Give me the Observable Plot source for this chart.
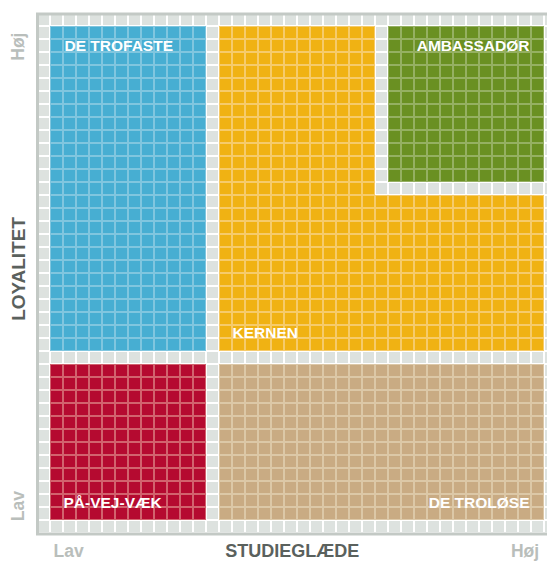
<!DOCTYPE html>
<html><head><meta charset="utf-8">
<script src="https://cdn.jsdelivr.net/npm/d3@7"></script>
<script src="https://cdn.jsdelivr.net/npm/@observablehq/plot@0.6"></script>
<style>
html,body{margin:0;padding:0;background:#fff;overflow:hidden}
#chart svg{overflow:hidden;display:block}
</style>
</head><body><div id="chart"></div>
<script>
// Segments (categories) and their colours
const segments = ["DE TROFASTE", "KERNEN", "AMBASSADØR", "PÅ-VEJ-VÆK", "DE TROLØSE"];
const segColors = ["#47aed2", "#f0b213", "#6a9022", "#b50a30", "#c9ab83"];
const segTints  = ["#80c6df", "#f6cb6b", "#95b062", "#d2636e", "#dcc8a7"];

// Regions of the grid (in cells, end exclusive); KERNEN is an L made of two blocks
const regionSegment = ["DE TROFASTE", "KERNEN", "KERNEN", "AMBASSADØR", "PÅ-VEJ-VÆK", "DE TROLØSE"];
const regionCol1 = [1, 14, 14, 27, 1, 14];
const regionCol2 = [13, 26, 39, 39, 13, 39];
const regionRow1 = [1, 1, 14, 1, 27, 27];
const regionRow2 = [26, 26, 26, 13, 39, 39];
const gridCols = 40;
const gridRows = 40;

// Axis labels
const xAxisLabels = ["Lav", "STUDIEGLÆDE", "Høj"];
const yAxisLabels = ["Høj", "LOYALITET", "Lav"];

const regions = regionSegment.map((s, i) => ({
  seg: s, x1: regionCol1[i], x2: regionCol2[i], y1: regionRow1[i], y2: regionRow2[i]
}));
const colorOf = s => segColors[segments.indexOf(s)];
const tintOf = s => segTints[segments.indexOf(s)];

const cells = [];
for (let c = 0; c < gridCols; c++) {
  for (let r = 0; r < gridRows; r++) {
    const reg = regions.find(g => c >= g.x1 && c < g.x2 && r >= g.y1 && r < g.y2);
    cells.push({c, r, seg: reg ? reg.seg : null});
  }
}
const grayCells = cells.filter(d => !d.seg);
const colorCells = cells.filter(d => d.seg);

const font = "'Liberation Sans', Arial, Helvetica, sans-serif";
const light = "#b9bebb", dark = "#5a615d";
const segFont = {fill: "white", fontSize: 15.5, fontWeight: "bold"};
const axFont = {fontSize: 17.5, fontWeight: "bold"};

const plot = Plot.plot({
  width: 547,
  height: 561,
  margin: 0,
  style: {background: "#fff", fontFamily: font},
  x: {type: "linear", domain: [0, gridCols], range: [37, 37 + 13 * gridCols], axis: null},
  y: {type: "linear", domain: [0, gridRows], range: [13, 13 + 13 * gridRows], axis: null},
  marks: [
    // gray background cells
    Plot.rect(grayCells, {x1: "c", x2: d => d.c + 1, y1: "r", y2: d => d.r + 1, fill: "#dde2df", inset: 1}),
    // region tinted grounds
    Plot.rect(regions, {x1: "x1", x2: "x2", y1: "y1", y2: "y2", fill: d => tintOf(d.seg)}),
    // coloured cells
    Plot.rect(colorCells, {x1: "c", x2: d => d.c + 1, y1: "r", y2: d => d.r + 1, fill: d => colorOf(d.seg), inset: 1}),
    // frame
    Plot.rect([0], {x1: 0, x2: gridCols, y1: 0, y2: gridRows, fill: "none", stroke: "#c3c9c5", strokeWidth: 3, dx: 0.5, dy: 1}),
    // segment labels
    Plot.text([segments[0]], {x: 2, y: 2.5, text: d => d, textAnchor: "start", dx: 1, ...segFont}),
    Plot.text([segments[2]], {x: 38, y: 2.5, text: d => d, textAnchor: "end", dx: -2, ...segFont}),
    Plot.text([segments[1]], {x: 15, y: 24.6, text: d => d, textAnchor: "start", ...segFont}),
    Plot.text([segments[3]], {x: 2, y: 37.65, text: d => d, textAnchor: "start", ...segFont}),
    Plot.text([segments[4]], {x: 38, y: 37.65, text: d => d, textAnchor: "end", dx: -2, ...segFont}),
    // x axis labels
    Plot.text([xAxisLabels[0]], {x: 2.4, y: 41.4, text: d => d, fill: light, ...axFont}),
    Plot.text([xAxisLabels[1]], {x: 19.6, y: 41.4, text: d => d, fill: dark, ...axFont, fontSize: 18}),
    Plot.text([xAxisLabels[2]], {x: 37.5, y: 41.4, text: d => d, fill: light, ...axFont}),
    // y axis labels
    Plot.text([yAxisLabels[0]], {x: -1.45, y: 2.55, text: d => d, rotate: -90, fill: light, ...axFont}),
    Plot.text([yAxisLabels[1]], {x: -1.45, y: 19.65, text: d => d, rotate: -90, fill: dark, ...axFont, fontSize: 19}),
    Plot.text([yAxisLabels[2]], {x: -1.45, y: 37.9, text: d => d, rotate: -90, fill: light, ...axFont})
  ]
});
document.getElementById("chart").appendChild(plot);
</script>
</body></html>
